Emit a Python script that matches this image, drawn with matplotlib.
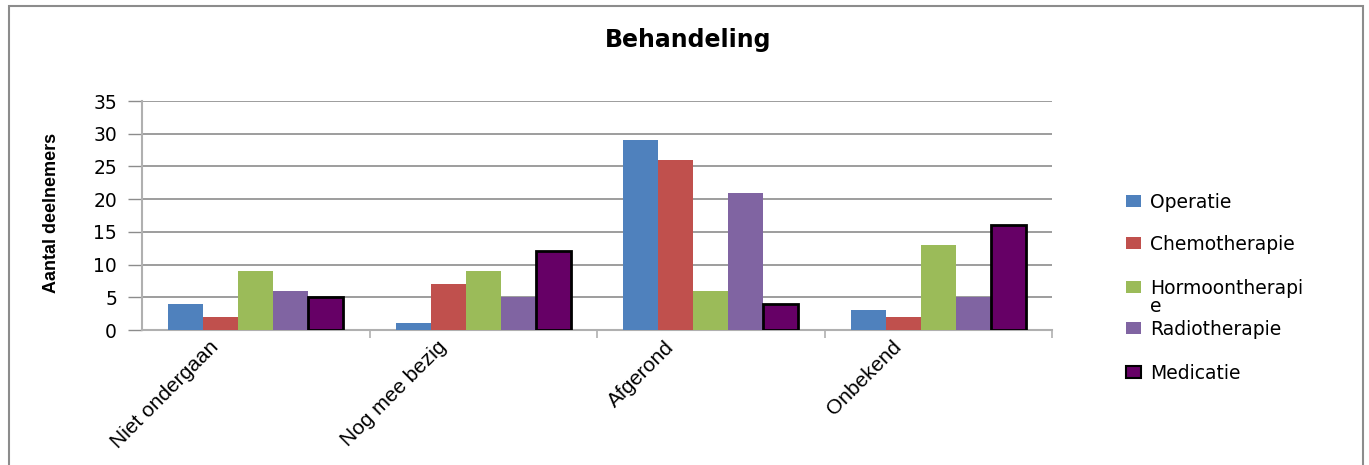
import matplotlib
matplotlib.use("Agg")
import matplotlib.pyplot as plt
from matplotlib import font_manager
from matplotlib.patches import Rectangle
import matplotlib.transforms as mtransforms
import numpy as np

categories = ["Niet ondergaan", "Nog mee bezig", "Afgerond", "Onbekend"]
series_names = ["Operatie", "Chemotherapie", "Hormoontherapi\ne", "Radiotherapie", "Medicatie"]
operatie = [4, 1, 29, 3]
chemotherapie = [2, 7, 26, 2]
hormoontherapie = [9, 9, 6, 13]
radiotherapie = [6, 5, 21, 5]
medicatie = [5, 12, 4, 16]
yticks = [0, 5, 10, 15, 20, 25, 30, 35]
title = "Behandeling"
ylabel = "Aantal deelnemers"

series = [operatie, chemotherapie, hormoontherapie, radiotherapie, medicatie]
colors = ["#4F81BD", "#C0504D", "#9BBB59", "#8064A2", "#660066"]
edges = [None, None, None, None, "black"]

names = {f.name for f in font_manager.fontManager.ttflist}
narrow = "Liberation Sans Narrow" if "Liberation Sans Narrow" in names else "Liberation Sans"

W, H = 1369, 465
fig = plt.figure(figsize=(W / 100, H / 100), dpi=100)
fig.patch.set_facecolor("white")

# chart border
fig.add_artist(Rectangle((8.5 / W, -0.01), (1363 - 8.5) / W, 1 - 6 / H + 0.01,
                         transform=fig.transFigure, fill=False,
                         edgecolor="#8c8c8c", linewidth=1.5))

ax = fig.add_axes([142 / W, 1 - 330 / H, (1052 - 142) / W, (330 - 101) / H])
x = np.arange(len(categories))
bw = 35 / 227.5
for i, vals in enumerate(series):
    off = (i - 2) * bw
    if edges[i]:
        ax.bar(x + off, vals, width=bw, color=colors[i], edgecolor=edges[i],
               linewidth=2, zorder=3)
    else:
        ax.bar(x + off, vals, width=bw, color=colors[i], linewidth=0, zorder=3)

ax.set_xlim(-0.5, len(categories) - 0.5)
ax.set_ylim(0, 35)
ax.set_yticks(yticks)
ax.yaxis.grid(True, color="#8c8c8c", linewidth=1.2, zorder=0)
ax.set_axisbelow(True)
for s in ["top", "right"]:
    ax.spines[s].set_visible(False)
ax.spines["left"].set_color("#b0b0b0")
ax.spines["bottom"].set_color("#b0b0b0")
ax.spines["left"].set_linewidth(1.5)
ax.spines["bottom"].set_linewidth(1.5)

ax.tick_params(axis="y", direction="out", length=10, width=1, color="#8c8c8c",
               pad=8, labelsize=13.5)
for lab in ax.get_yticklabels():
    lab.set_fontfamily("DejaVu Sans")

ax.set_xticks(x)
ax.set_xticklabels(categories, rotation=45, ha="right", va="center",
                   rotation_mode="anchor", fontsize=15, fontfamily=narrow)
ax.tick_params(axis="x", which="major", length=0, pad=10)
ax.set_xticks(np.arange(0.5, len(categories) + 0.5, 1), minor=True)
ax.tick_params(axis="x", which="minor", direction="out", length=6, width=1.2,
               color="#b0b0b0")
offset = mtransforms.ScaledTranslation(-40 / 100, 0, fig.dpi_scale_trans)
for lab in ax.get_xticklabels():
    lab.set_transform(lab.get_transform() + offset)

fig.text(688 / W, 1 - 40 / H, title, ha="center", va="center",
         fontsize=17, fontweight="bold", fontfamily="DejaVu Sans")
fig.text(52 / W, 1 - 213 / H, ylabel, ha="center", va="center", rotation=90,
         fontsize=13, fontweight="bold", fontfamily=narrow)

# legend
leg_y = [201, 243, 287, 328, 372]
for i, name in enumerate(series_names):
    yc = leg_y[i]
    fig.add_artist(Rectangle((1126 / W, 1 - (yc + 6) / H), 15 / W, 12 / H,
                             transform=fig.transFigure, facecolor=colors[i],
                             edgecolor=edges[i] if edges[i] else colors[i],
                             linewidth=1.5 if edges[i] else 0))
    fig.text(1150 / W, 1 - (yc - 8) / H, name, ha="left", va="top",
             fontsize=13.5, fontfamily="DejaVu Sans", linespacing=0.95)

fig.savefig("out.png", dpi=100)
